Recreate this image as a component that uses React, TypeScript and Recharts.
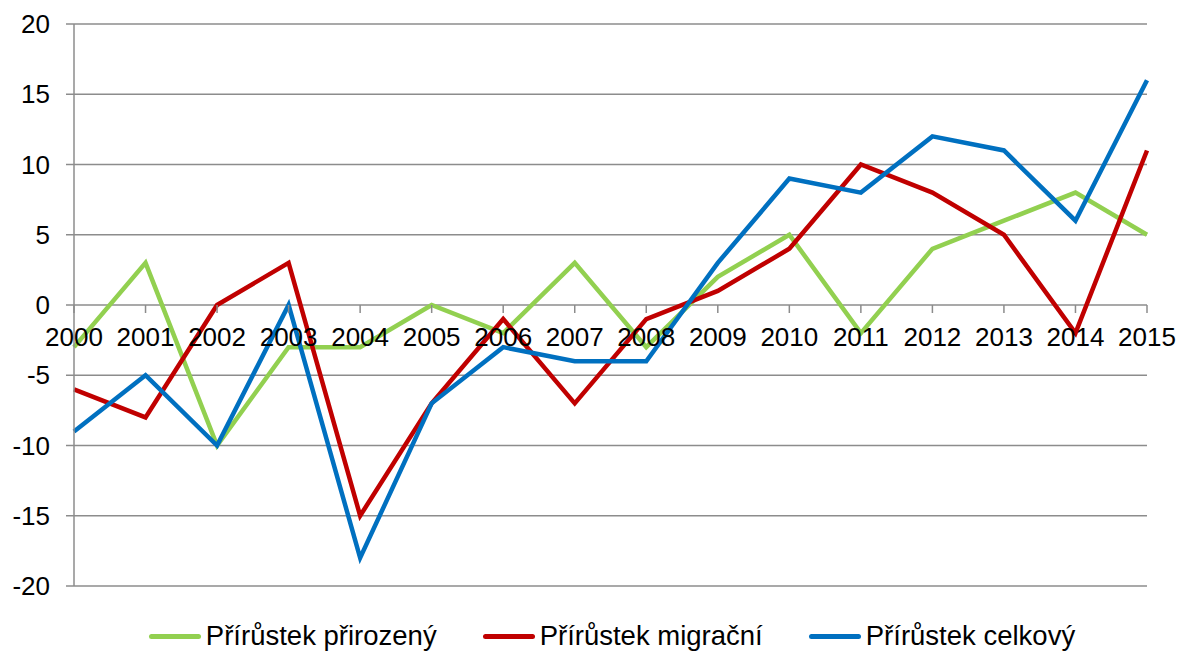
import { LineChart, Line, XAxis, YAxis, CartesianGrid } from 'recharts'

const roky = ['2000', '2001', '2002', '2003', '2004', '2005', '2006', '2007', '2008', '2009', '2010', '2011', '2012', '2013', '2014', '2015']
const prirozeny = [-3, 3, -10, -3, -3, 0, -2, 3, -3, 2, 5, -2, 4, 6, 8, 5]
const migracni = [-6, -8, 0, 3, -15, -7, -1, -7, -1, 1, 4, 10, 8, 5, -2, 11]
const celkovy = [-9, -5, -10, 0, -18, -7, -3, -4, -4, 3, 9, 8, 12, 11, 6, 16]
const yTicks = [-20, -15, -10, -5, 0, 5, 10, 15, 20]

const serie = [
  { key: 'prirozeny', nazev: 'Přírůstek přirozený', barva: '#92D050' },
  { key: 'migracni', nazev: 'Přírůstek migrační', barva: '#C00000' },
  { key: 'celkovy', nazev: 'Přírůstek celkový', barva: '#0070C0' },
]

const data = roky.map((rok, i) => ({
  rok,
  prirozeny: prirozeny[i],
  migracni: migracni[i],
  celkovy: celkovy[i],
}))

const W = 1180
const H = 651
const MARGIN = { top: 24, right: 33, bottom: 64, left: 10 }
const X_H = 1
const PLOT_H = H - MARGIN.top - MARGIN.bottom - X_H
// osa x protíná nulu, domain je symetrický
const ZERO_Y = MARGIN.top + PLOT_H / 2
const SEDA = '#8c8c8c'
const FONT = '"Liberation Sans", Arial, sans-serif'
const TICK_FS = 26

function XTick(props: any) {
  const { x, payload } = props
  return (
    <g>
      <line x1={x} x2={x} y1={ZERO_Y} y2={ZERO_Y + 8} stroke={SEDA} strokeWidth={1.5} />
      <text x={x} y={ZERO_Y + 32} textAnchor="middle" dominantBaseline="central" fontSize={TICK_FS} fill="#000" fontFamily={FONT}>
        {payload.value}
      </text>
    </g>
  )
}

export default function App() {
  return (
    <div style={{ position: 'relative', width: W, height: H, fontFamily: FONT, overflow: 'hidden' }}>
      <style>{`body { margin: 0; }`}</style>
      <LineChart width={W} height={H} data={data} margin={MARGIN}>
        <CartesianGrid vertical={false} stroke={SEDA} strokeWidth={1.5} />
        <XAxis dataKey="rok" height={X_H} interval={0} axisLine={false} tickLine={false} tick={<XTick />} />
        <YAxis
          width={64}
          domain={[-20, 20]}
          ticks={yTicks}
          interval={0}
          tickSize={8}
          tickMargin={16}
          axisLine={{ stroke: SEDA, strokeWidth: 1.5 }}
          tickLine={{ stroke: SEDA, strokeWidth: 1.5 }}
          tick={{ fontSize: TICK_FS, fill: '#000', fontFamily: FONT }}
        />
        {serie.map(s => (
          <Line
            key={s.key}
            type="linear"
            dataKey={s.key}
            name={s.nazev}
            stroke={s.barva}
            strokeWidth={4.5}
            dot={false}
            isAnimationActive={false}
          />
        ))}
      </LineChart>
      <div
        style={{
          position: 'absolute',
          left: 22,
          top: 620,
          width: W,
          display: 'flex',
          justifyContent: 'center',
          gap: 46,
          fontSize: 27.5,
          lineHeight: '32px',
          color: '#000',
        }}
      >
        {serie.map(s => (
          <div key={s.key} style={{ display: 'flex', alignItems: 'center' }}>
            <span style={{ display: 'inline-block', width: 52, height: 5, borderRadius: 3, background: s.barva, marginRight: 5 }} />
            <span>{s.nazev}</span>
          </div>
        ))}
      </div>
    </div>
  )
}
